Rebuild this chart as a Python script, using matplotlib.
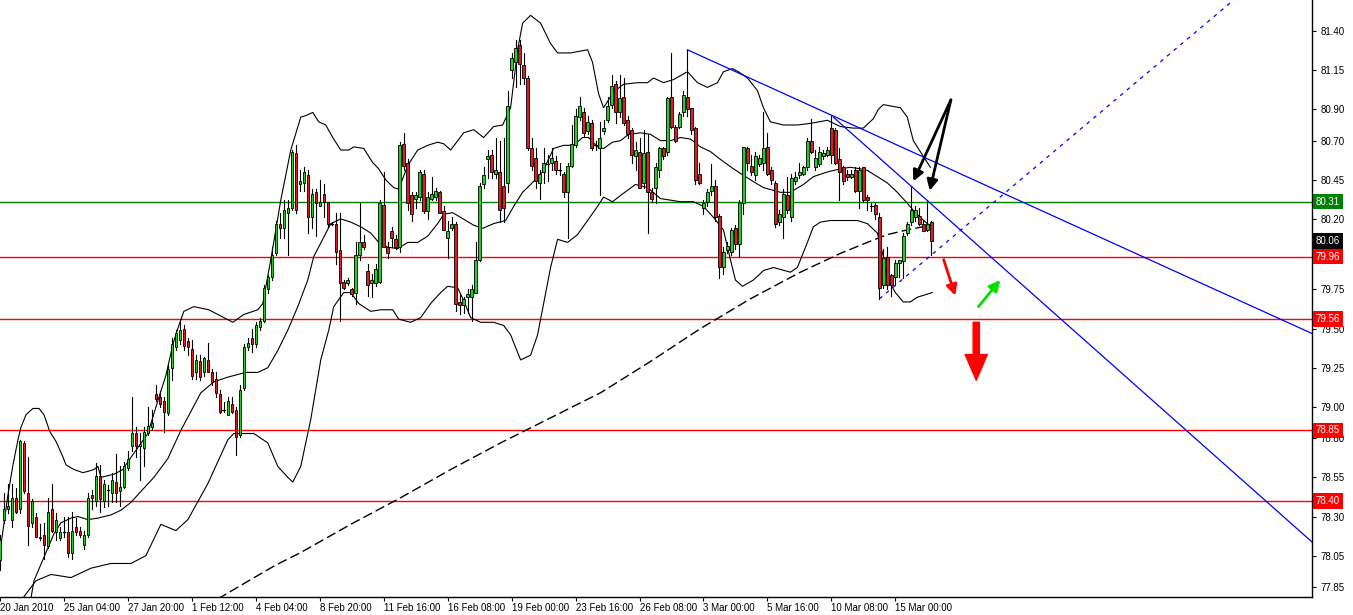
import numpy as np
import matplotlib
matplotlib.use('Agg')
import matplotlib.pyplot as plt
import matplotlib.transforms as mtransforms

plt.rcParams['font.family'] = ['Liberation Sans', 'DejaVu Sans']

# 4H candles, bar index 0 = 20 Jan 2010
opens = [
    78.02, 78.28, 78.35, 78.28, 78.42, 78.35, 78.77, 78.45, 78.26, 78.30,
    78.17, 78.18, 78.11, 78.35, 78.20, 78.16, 78.20, 78.20, 78.07, 78.23,
    78.21, 78.12, 78.18, 78.44, 78.40, 78.56, 78.40, 78.47, 78.45, 78.52,
    78.46, 78.49, 78.61, 78.75, 78.83, 78.75, 78.74, 78.83, 78.87, 79.08,
    79.06, 79.04, 78.96, 79.25, 79.38, 79.43, 79.50, 79.42, 79.37, 79.22,
    79.29, 79.22, 79.30, 79.22, 79.18, 79.08, 78.98, 78.95, 79.02, 78.98,
    78.82, 79.12, 79.38, 79.44, 79.40, 79.51, 79.55, 79.75, 79.83, 79.98,
    80.17, 80.14, 80.24, 80.27, 80.62, 80.42, 80.43, 80.48, 80.21, 80.37,
    80.28, 80.36, 80.31, 80.17, 80.17, 80.00, 79.80, 79.79, 79.75, 79.73,
    79.97, 80.05, 79.87, 79.79, 79.79, 79.80, 80.29, 80.02, 80.12, 80.07,
    80.02, 80.68, 80.56, 80.35, 80.33, 80.34, 80.49, 80.25, 80.33, 80.34,
    80.37, 80.25, 80.08, 80.14, 80.17, 79.67, 79.65, 79.70, 79.70, 79.73,
    79.94, 80.42, 80.58, 80.61, 80.49, 80.50, 80.41, 80.43, 81.15, 81.20,
    81.31, 81.18, 81.10, 80.65, 80.59, 80.43, 80.50, 80.55, 80.56, 80.57,
    80.51, 80.49, 80.37, 80.54, 80.67, 80.85, 80.88, 80.76, 80.81, 80.67,
    80.65, 80.76, 80.83, 80.93, 81.06, 80.88, 80.98, 80.83, 80.77, 80.60,
    80.63, 80.43, 80.63, 80.37, 80.40, 80.51, 80.65, 80.63, 80.98, 80.79,
    80.79, 80.88, 80.98, 80.91, 80.78, 80.49, 80.27, 80.31, 80.38, 80.41,
    80.22, 79.89, 80.00, 79.99, 80.14, 80.04, 80.30, 80.65, 80.54, 80.48,
    80.55, 80.56, 80.66, 80.51, 80.43, 80.18, 80.21, 80.35, 80.21, 80.44,
    80.48, 80.49, 80.53, 80.70, 80.53, 80.55, 80.60, 80.61, 80.78, 80.77,
    80.58, 80.53, 80.49, 80.47, 80.51, 80.38, 80.53, 80.34, 80.28, 80.29,
    80.21, 79.78, 79.96, 79.84, 79.83, 79.92, 79.93, 80.11, 80.18, 80.21,
    80.22, 80.17, 80.13, 80.18]
highs = [
    78.18, 78.45, 78.51, 78.51, 78.48, 78.79, 78.78, 78.68, 78.41, 78.32,
    78.25, 78.26, 78.42, 78.51, 78.32, 78.23, 78.30, 78.30, 78.33, 78.29,
    78.23, 78.21, 78.45, 78.47, 78.64, 78.63, 78.53, 78.50, 78.58, 78.70,
    78.62, 78.65, 78.72, 79.06, 78.87, 78.83, 78.87, 79.00, 78.98, 79.14,
    79.10, 79.06, 79.27, 79.44, 79.49, 79.54, 79.52, 79.44, 79.43, 79.33,
    79.33, 79.32, 79.41, 79.24, 79.22, 79.11, 79.03, 79.06, 79.06, 79.00,
    79.14, 79.40, 79.44, 79.50, 79.54, 79.57, 79.78, 79.84, 80.02, 80.19,
    80.24, 80.32, 80.32, 80.64, 80.67, 80.51, 80.53, 80.51, 80.39, 80.39,
    80.45, 80.42, 80.31, 80.18, 80.24, 80.24, 79.81, 79.82, 79.76, 80.05,
    80.30, 80.10, 79.91, 79.85, 79.91, 80.32, 80.50, 80.05, 80.15, 80.10,
    80.69, 80.75, 80.58, 80.37, 80.37, 80.51, 80.51, 80.37, 80.47, 80.40,
    80.38, 80.28, 80.19, 80.21, 80.18, 79.73, 79.70, 79.75, 79.78, 80.05,
    80.43, 80.53, 80.64, 80.64, 80.72, 80.70, 80.72, 81.02, 81.26, 81.34,
    81.34, 81.26, 81.11, 80.72, 80.65, 80.51, 80.65, 80.61, 80.65, 80.60,
    80.56, 80.50, 80.56, 80.80, 80.90, 80.98, 80.91, 80.86, 80.83, 80.70,
    80.82, 80.83, 80.98, 81.12, 81.08, 81.12, 81.10, 80.86, 80.78, 80.69,
    80.72, 80.77, 80.74, 80.40, 80.56, 80.66, 80.66, 80.98, 81.26, 80.80,
    80.88, 81.02, 81.28, 80.91, 80.79, 80.56, 80.32, 80.39, 80.55, 80.45,
    80.23, 80.02, 80.05, 80.14, 80.16, 80.32, 80.66, 80.66, 80.61, 80.63,
    80.61, 80.88, 80.75, 80.53, 80.44, 80.26, 80.39, 80.47, 80.49, 80.50,
    80.56, 80.54, 80.72, 80.84, 80.64, 80.66, 80.64, 80.66, 80.86, 80.78,
    80.65, 80.54, 80.51, 80.51, 80.53, 80.53, 80.53, 80.35, 80.30, 80.30,
    80.24, 80.01, 80.02, 79.85, 79.94, 79.94, 80.11, 80.18, 80.41, 80.28,
    80.27, 80.19, 80.32, 80.19]
lows = [
    77.96, 78.26, 78.32, 78.23, 78.32, 78.32, 78.45, 78.12, 78.23, 78.17,
    78.15, 78.03, 78.10, 78.20, 78.15, 78.15, 78.17, 78.04, 78.03, 78.18,
    78.17, 78.09, 78.17, 78.35, 78.37, 78.33, 78.36, 78.37, 78.39, 78.39,
    78.37, 78.48, 78.60, 78.72, 78.68, 78.53, 78.62, 78.82, 78.85, 79.04,
    79.00, 78.84, 78.95, 79.17, 79.36, 79.40, 79.36, 79.33, 79.18, 79.18,
    79.17, 79.20, 79.22, 79.14, 79.06, 78.96, 78.97, 78.95, 78.96, 78.69,
    78.81, 79.11, 79.36, 79.35, 79.38, 79.49, 79.54, 79.73, 79.81, 79.97,
    80.08, 80.08, 79.97, 80.26, 80.24, 80.38, 80.38, 80.11, 80.14, 80.09,
    80.28, 80.21, 80.15, 80.16, 79.91, 79.55, 79.75, 79.78, 79.71, 79.66,
    79.94, 80.01, 79.71, 79.70, 79.77, 79.79, 80.02, 79.95, 80.02, 80.01,
    79.99, 80.51, 80.26, 80.19, 80.27, 80.32, 80.24, 80.20, 80.32, 80.32,
    80.24, 80.13, 79.95, 80.13, 79.61, 79.59, 79.60, 79.60, 79.55, 79.73,
    79.93, 80.40, 80.46, 80.46, 80.46, 80.18, 80.18, 80.37, 81.10, 81.04,
    81.06, 81.06, 80.64, 80.51, 80.40, 80.33, 80.43, 80.44, 80.51, 80.49,
    80.48, 80.34, 80.08, 80.53, 80.66, 80.83, 80.73, 80.74, 80.64, 80.64,
    80.35, 80.74, 80.82, 80.91, 80.81, 80.85, 80.80, 80.72, 80.56, 80.51,
    80.40, 80.40, 80.11, 80.31, 80.30, 80.47, 80.58, 80.61, 80.78, 80.69,
    80.78, 80.86, 80.86, 80.74, 80.42, 80.42, 80.23, 80.28, 80.35, 80.19,
    79.82, 79.85, 79.98, 79.97, 80.01, 79.96, 80.23, 80.51, 80.48, 80.45,
    80.54, 80.51, 80.48, 80.42, 80.15, 80.16, 80.08, 80.24, 80.19, 80.42,
    80.46, 80.48, 80.51, 80.62, 80.51, 80.54, 80.58, 80.60, 80.56, 80.55,
    80.32, 80.42, 80.45, 80.46, 80.37, 80.27, 80.31, 80.26, 80.25, 80.20,
    79.69, 79.76, 79.75, 79.71, 79.78, 79.83, 79.82, 80.10, 80.16, 80.19,
    80.16, 80.12, 80.12, 79.97]
closes = [
    78.15, 78.35, 78.37, 78.42, 78.33, 78.78, 78.46, 78.24, 78.40, 78.17,
    78.16, 78.12, 78.33, 78.21, 78.28, 78.20, 78.20, 78.07, 78.21, 78.20,
    78.18, 78.18, 78.42, 78.42, 78.56, 78.41, 78.51, 78.47, 78.53, 78.45,
    78.49, 78.62, 78.67, 78.83, 78.75, 78.76, 78.84, 78.88, 78.90, 79.05,
    79.02, 78.97, 79.24, 79.40, 79.47, 79.49, 79.39, 79.38, 79.20, 79.30,
    79.19, 79.31, 79.22, 79.16, 79.09, 78.97, 78.98, 79.04, 78.97, 78.81,
    79.11, 79.38, 79.41, 79.40, 79.52, 79.55, 79.76, 79.83, 79.97, 80.17,
    80.14, 80.26, 80.27, 80.63, 80.26, 80.44, 80.50, 80.21, 80.36, 80.30,
    80.31, 80.31, 80.17, 80.17, 79.99, 79.79, 79.76, 79.81, 79.72, 79.97,
    80.05, 80.02, 79.78, 79.81, 79.88, 80.30, 80.02, 79.98, 80.08, 80.02,
    80.67, 80.54, 80.30, 80.23, 80.35, 80.50, 80.25, 80.34, 80.36, 80.38,
    80.24, 80.13, 80.12, 80.17, 79.66, 79.65, 79.69, 79.72, 79.75, 79.94,
    80.41, 80.48, 80.60, 80.50, 80.51, 80.26, 80.27, 80.92, 81.23, 81.29,
    81.19, 81.10, 80.65, 80.54, 80.44, 80.49, 80.56, 80.55, 80.59, 80.51,
    80.51, 80.37, 80.54, 80.68, 80.86, 80.92, 80.75, 80.82, 80.65, 80.67,
    80.72, 80.78, 80.92, 81.05, 80.88, 80.97, 80.81, 80.74, 80.61, 80.64,
    80.40, 80.62, 80.37, 80.33, 80.53, 80.65, 80.60, 80.97, 80.79, 80.70,
    80.87, 80.99, 80.90, 80.77, 80.45, 80.43, 80.30, 80.37, 80.41, 80.21,
    79.89, 79.99, 80.03, 80.13, 80.04, 80.30, 80.66, 80.56, 80.50, 80.60,
    80.59, 80.65, 80.49, 80.45, 80.17, 80.23, 80.36, 80.26, 80.46, 80.47,
    80.50, 80.53, 80.70, 80.63, 80.59, 80.63, 80.62, 80.64, 80.61, 80.56,
    80.50, 80.44, 80.47, 80.49, 80.38, 80.51, 80.32, 80.32, 80.28, 80.23,
    79.76, 79.95, 79.78, 79.78, 79.92, 79.94, 80.09, 80.17, 80.26, 80.26,
    80.17, 80.12, 80.17, 80.06]

# bollinger bands (bar, price)
ub_x = [0.25, 2, 3.25, 4.5, 5.25, 6.5, 8.25, 9.75, 11, 12.5, 14, 15.75, 16.5, 18.5, 20.75,
        22.25, 23.5, 24.5, 25.25, 28.5, 30.75, 32, 37, 39.5, 41.5, 43.25, 44.75, 46, 48.5,
        52.25, 56, 58.25, 61, 64.5, 65.75, 67.75, 70.25, 72.75, 75.25, 76.5, 78.25, 79.75,
        81.5, 83.25, 85.25, 87.25, 88.5, 91, 92.25, 93.25, 94.75, 96.5, 98.5, 99.75, 102,
        104.5, 107, 109.5, 111, 112.75, 116, 118.5, 121, 123.5, 125.75, 127.75, 129.5,
        130.75, 132.75, 135.25, 137.75, 139.5, 142.75, 147, 148.25, 149.75, 151, 152.25,
        153.5, 156, 159.5, 162, 163.5, 166, 168.5, 172, 174.5, 177, 179.5, 181, 183.25,
        184.75, 187, 189.5, 191, 192.75, 196, 199.5, 202.75, 207, 210.25, 213.5, 216,
        218.5, 219.75, 221, 225.25, 227, 228.5, 231, 232.75]
ub_y = [78.12, 78.44, 78.63, 78.79, 78.87, 78.95, 78.99, 78.99, 78.95, 78.84, 78.78, 78.68,
        78.63, 78.60, 78.58, 78.59, 78.60, 78.62, 78.55, 78.57, 78.60, 78.65, 78.83, 79.04,
        79.20, 79.40, 79.52, 79.61, 79.64, 79.62, 79.57, 79.54, 79.59, 79.62, 79.66, 79.94,
        80.32, 80.64, 80.85, 80.86, 80.88, 80.82, 80.80, 80.72, 80.64, 80.64, 80.66, 80.65,
        80.60, 80.56, 80.52, 80.45, 80.40, 80.39, 80.54, 80.64, 80.67, 80.69, 80.68, 80.64,
        80.75, 80.77, 80.72, 80.79, 80.80, 80.91, 81.28, 81.45, 81.50, 81.45, 81.32, 81.26,
        81.26, 81.28, 81.20, 81.00, 80.91, 80.96, 81.01, 81.06, 81.07, 81.07, 81.10, 81.07,
        81.09, 81.14, 81.07, 81.04, 81.07, 81.14, 81.16, 81.14, 81.10, 81.02, 80.91, 80.82,
        80.80, 80.80, 80.81, 80.83, 80.79, 80.78, 80.78, 80.84, 80.90, 80.93, 80.91, 80.85,
        80.70, 80.60, 80.53]
mb_x = [7.75, 8.5, 11, 13.5, 15.25, 17.75, 19.5, 22, 24.5, 27.75, 30.25, 32.75, 35.25, 38.5,
        42, 45.25, 50.25, 53.5, 57, 61.5, 64.5, 67, 69.5, 72, 74.5, 77, 78.5, 82.75, 85.25,
        87.75, 90.25, 92.75, 94.75, 97, 99.5, 102, 104.5, 107, 109.5, 111, 113.25, 115.25,
        118.5, 120.75, 123.5, 126.5, 128.5, 130.75, 132.75, 135.75, 138.5, 141, 143.5,
        145.75, 147.25, 149.5, 151, 153.25, 155.25, 157.25, 160.25, 162.75, 165.25, 167.75,
        170.25, 172.75, 175.25, 177.75, 180.25, 183.5, 187.75, 191, 195.25, 197.75, 201,
        203.5, 207, 210.25, 212.75, 215.25, 217, 219.5, 222, 224.5, 227, 229, 232, 233.5]
mb_y = [77.78, 77.89, 78.04, 78.19, 78.26, 78.29, 78.30, 78.28, 78.29, 78.31, 78.34, 78.39,
        78.46, 78.55, 78.67, 78.85, 79.09, 79.16, 79.19, 79.22, 79.22, 79.25, 79.36, 79.49,
        79.64, 79.81, 79.96, 80.17, 80.20, 80.18, 80.15, 80.11, 80.05, 80.02, 80.01, 80.05,
        80.05, 80.09, 80.17, 80.23, 80.24, 80.21, 80.16, 80.14, 80.17, 80.19, 80.28, 80.37,
        80.42, 80.50, 80.65, 80.67, 80.67, 80.72, 80.72, 80.66, 80.65, 80.69, 80.70, 80.74,
        80.75, 80.74, 80.70, 80.70, 80.72, 80.71, 80.66, 80.63, 80.58, 80.52, 80.45, 80.40,
        80.37, 80.37, 80.42, 80.47, 80.50, 80.52, 80.53, 80.52, 80.51, 80.47, 80.43, 80.37,
        80.30, 80.24, 80.17, 80.15]
lb_x = [5.75, 9, 12.75, 17.75, 22.75, 27.75, 32.75, 36.5, 40.25, 44, 47, 52, 57, 58.5, 63.5,
        67, 69.5, 72, 73.25, 75.25, 77.75, 80.25, 82.25, 83.5, 86, 87.75, 89.75, 92.75,
        95.25, 98.25, 99.75, 102.75, 105.25, 107.75, 110.25, 112, 114.5, 116, 117.75,
        120.25, 123.5, 126, 127.75, 130.25, 132.75, 134.5, 137.75, 139.5, 142, 144.5, 147,
        149.5, 151, 153.25, 155.25, 159, 162, 165.25, 167.75, 170.25, 173.5, 176, 178.5,
        181, 182.75, 184, 185.75, 188.5, 191, 193.5, 197.75, 199.5, 202, 203.5, 205.25,
        207.75, 214.5, 217, 219.5, 221, 222.25, 224, 226, 227.75, 229.5, 232, 233.25]
lb_y = [77.78, 77.89, 77.93, 77.91, 77.97, 78.00, 78.00, 78.05, 78.25, 78.21, 78.28, 78.51,
        78.79, 78.83, 78.83, 78.77, 78.62, 78.55, 78.52, 78.62, 78.92, 79.30, 79.49, 79.64,
        79.73, 79.73, 79.66, 79.61, 79.62, 79.62, 79.56, 79.54, 79.57, 79.66, 79.73, 79.77,
        79.76, 79.68, 79.57, 79.54, 79.54, 79.52, 79.46, 79.30, 79.33, 79.46, 79.89, 80.07,
        80.05, 80.10, 80.19, 80.28, 80.34, 80.31, 80.35, 80.42, 80.40, 80.33, 80.32, 80.31,
        80.31, 80.28, 80.21, 80.13, 79.94, 79.81, 79.77, 79.81, 79.87, 79.89, 79.86, 79.89,
        80.05, 80.15, 80.18, 80.19, 80.19, 80.17, 80.11, 79.96, 79.81, 79.73, 79.67, 79.67,
        79.70, 79.72, 79.73]
# long moving average (dashed)
ma_x = [51.5, 54.25, 62.25, 69, 75.25, 87.75, 100.25, 112.75, 125.25, 137.75, 150.25,
        162.75, 175.25, 187.75, 200.25, 210.25, 217, 222, 227, 232.75]
ma_y = [77.73, 77.77, 77.89, 77.99, 78.07, 78.25, 78.42, 78.60, 78.77, 78.93, 79.09,
        79.29, 79.50, 79.69, 79.86, 79.98, 80.05, 80.10, 80.13, 80.16]

date_labels = ['20 Jan 2010', '25 Jan 04:00', '27 Jan 20:00', '1 Feb 12:00', '4 Feb 04:00',
               '8 Feb 20:00', '11 Feb 16:00', '16 Feb 08:00', '19 Feb 00:00', '23 Feb 16:00',
               '26 Feb 08:00', '3 Mar 00:00', '5 Mar 16:00', '10 Mar 08:00', '15 Mar 00:00']
date_bars = [0, 16, 32, 48, 64, 80, 96, 112, 128, 144, 160, 176, 192, 208, 224]
price_ticks = [81.40, 81.15, 80.90, 80.70, 80.45, 80.20, 79.75, 79.50, 79.25, 79.00,
               78.80, 78.55, 78.30, 78.05, 77.85]

# horizontal levels
green_level = 80.31
red_levels = [79.96, 79.56, 78.85, 78.40]
last_price = 80.06

# trend lines: two anchor points (bar, price)
trend_1 = [(172, 81.28), (327.25, 79.48)]
trend_2 = [(208.5, 80.85), (327.25, 78.16)]
trend_dash = [(220, 79.69), (308.75, 81.60)]

XMIN, XMAX = 0.25, 328.25
YMIN, YMAX = 77.786, 81.598

fig = plt.figure(figsize=(13.53, 6.15), dpi=100)
ax = fig.add_axes([0, 18 / 615, 1312 / 1353, 597 / 615])

bull = '#1ed21e'
bear = '#dc1e1e'
n = len(closes)
for i in range(n):
    o, h, l, c = opens[i], highs[i], lows[i], closes[i]
    ax.plot([i, i], [l, h], color='black', lw=0.8, zorder=3)
    if abs(c - o) < 0.006:
        ax.plot([i - 0.35, i + 0.35], [c, c], color='black', lw=0.9, zorder=4)
    else:
        ax.bar(i, abs(c - o), bottom=min(o, c), width=0.62,
               color=bull if c > o else bear, edgecolor='black', linewidth=0.6, zorder=4)

ax.plot(ub_x, ub_y, color='black', lw=0.8, zorder=2)
ax.plot(mb_x, mb_y, color='black', lw=0.8, zorder=2)
ax.plot(lb_x, lb_y, color='black', lw=0.8, zorder=2)
ax.plot(ma_x, ma_y, color='black', lw=1.0, dashes=(7, 3), zorder=2)

ax.axhline(green_level, color='#008000', lw=1, zorder=1)
for lv in red_levels:
    ax.axhline(lv, color='#ff0000', lw=1, zorder=1)


def ray(pts, **kw):
    (x1, y1), (x2, y2) = pts
    s = (y2 - y1) / (x2 - x1)
    ax.plot([x1, XMAX], [y1, y1 + s * (XMAX - x1)], **kw)


ray(trend_1, color='#0000ff', lw=0.9, zorder=5)
ray(trend_2, color='#0000ff', lw=0.9, zorder=5)
ray(trend_dash, color='#0000ff', lw=0.9, dashes=(3, 4), zorder=5)

# arrows
for tip in [(228.5, 80.44), (232.6, 80.38)]:
    ax.annotate('', xy=tip, xytext=(237.9, 80.96),
                arrowprops=dict(arrowstyle='-|>', color='black', lw=2, mutation_scale=16,
                                shrinkA=0, shrinkB=0), zorder=6)
ax.annotate('', xy=(239, 79.71), xytext=(236.1, 79.94),
            arrowprops=dict(arrowstyle='-|>', color='#ff0000', lw=2, mutation_scale=16,
                            shrinkA=0, shrinkB=0), zorder=6)
ax.annotate('', xy=(250.25, 79.81), xytext=(244.8, 79.64),
            arrowprops=dict(arrowstyle='-|>', color='#00e000', lw=2, mutation_scale=16,
                            shrinkA=0, shrinkB=0), zorder=6)
ax.annotate('', xy=(244.25, 79.17), xytext=(244.25, 79.54),
            arrowprops=dict(arrowstyle='simple,head_length=1.85,head_width=1.6,tail_width=0.45',
                            color='#ff0000', mutation_scale=10, shrinkA=0, shrinkB=0), zorder=6)

ax.set_xlim(XMIN, XMAX)
ax.set_ylim(YMIN, YMAX)

for s in ['top', 'left']:
    ax.spines[s].set_visible(False)
for s in ['right', 'bottom']:
    ax.spines[s].set_color('black')
    ax.spines[s].set_linewidth(1)

ax.yaxis.tick_right()
ax.set_yticks(price_ticks)
ax.set_yticklabels(['%.2f' % v for v in price_ticks])
ax.tick_params(axis='y', direction='out', length=3, width=0.8, pad=3, labelsize=7)
ax.set_xticks(date_bars)
ax.set_xticklabels(date_labels, ha='left')
ax.tick_params(axis='x', direction='out', length=3, width=0.8, pad=1, labelsize=7)

trans = mtransforms.blended_transform_factory(ax.transAxes, ax.transData)
boxes = [(green_level, '#008000'), (last_price, 'black')] + [(v, '#ff0000') for v in red_levels]
for v, col in boxes:
    ax.text(1.003, v, '%.2f' % v, transform=trans, color='white', fontsize=7,
            va='center', ha='left', zorder=10, clip_on=False,
            bbox=dict(boxstyle='square,pad=0.28', fc=col, ec='none'))

fig.savefig('out.png', dpi=100, facecolor='white')
